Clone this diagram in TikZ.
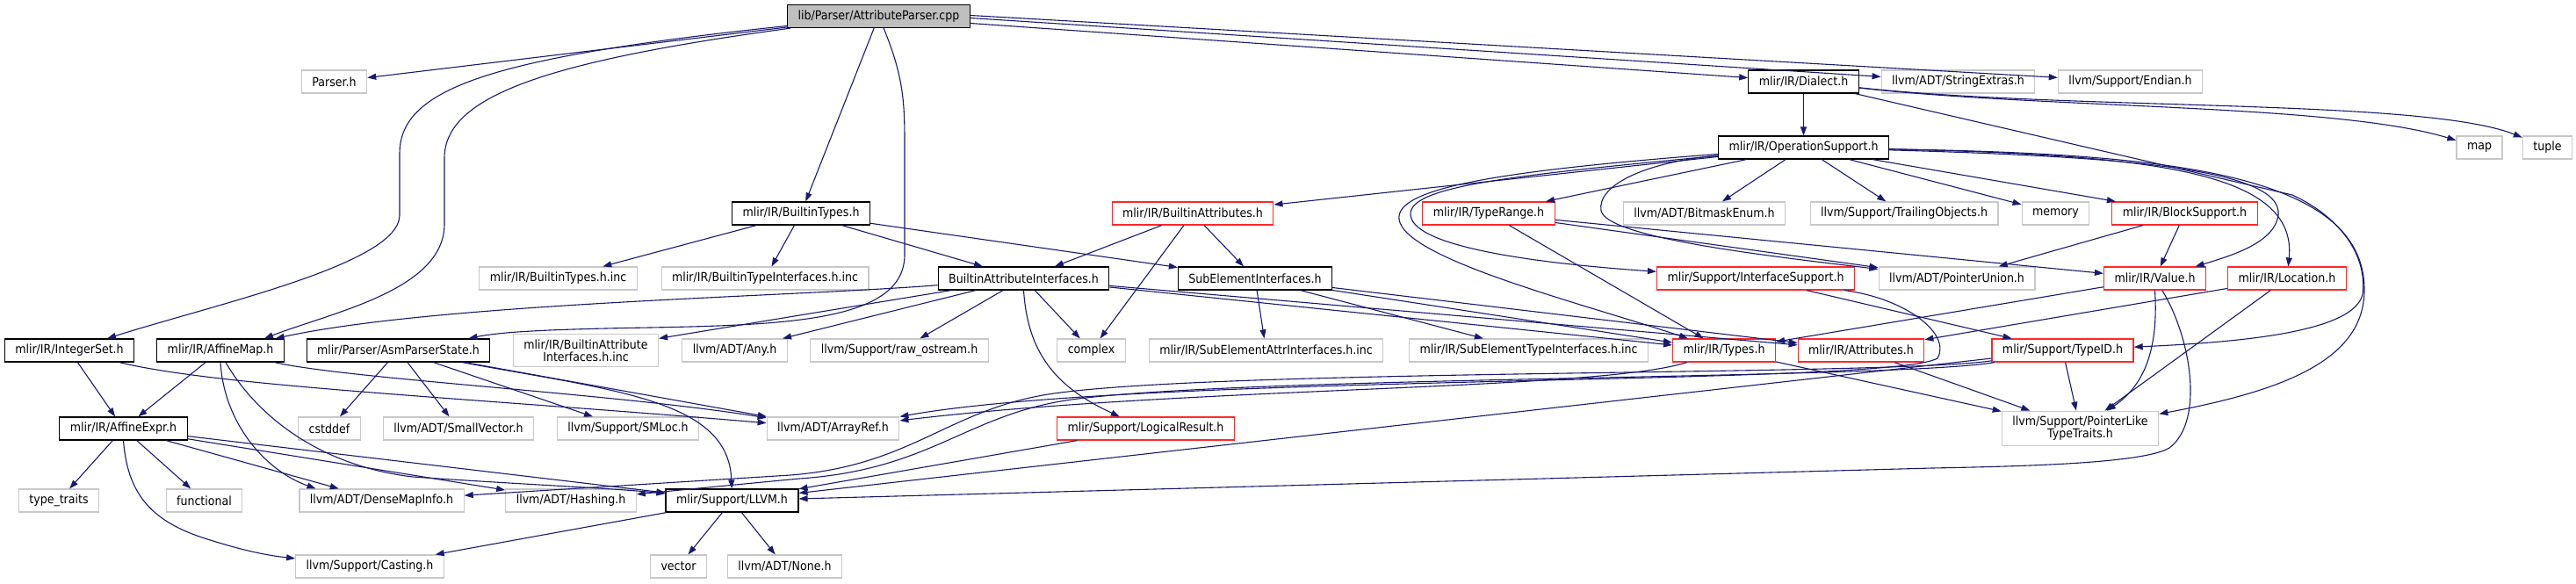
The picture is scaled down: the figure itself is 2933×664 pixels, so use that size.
\documentclass[tikz,border=0pt]{standalone}
\usepackage{fontspec}
\setmainfont{DejaVu Sans}[FakeStretch=0.9]
\usetikzlibrary{arrows.meta}
\usepackage{xcolor}
\definecolor{edgeblue}{RGB}{25,25,112}
\definecolor{rootgrey}{RGB}{191,191,191}
\definecolor{leafgrey}{RGB}{200,200,200}
\definecolor{cutred}{RGB}{255,40,40}

\tikzset{
  filebox/.style={draw=black, line width=1.2pt, fill=white, inner xsep=12pt, inner ysep=6pt,
    minimum height=26pt, align=center, font=\fontsize{14}{14}\selectfont},
  hdr/.style={filebox},
  leaf/.style={filebox, draw=leafgrey},
  cut/.style={filebox, draw=cutred},
  rootfile/.style={filebox, fill=rootgrey},
  dep/.style={draw=edgeblue, line width=1.1pt, -{Triangle[length=10pt,width=7pt]}}
}

\begin{document}
\begin{tikzpicture}[x=1pt,y=-1pt]
  % --- canvas ---
  \useasboundingbox (0,0) rectangle (2933,664);
  \fill[white] (0,0) rectangle (2933,664);

  % --- row 0 / 1 / 2 ---
  \node[rootfile] (root) at (1000.5,18.5) {lib/Parser/AttributeParser.cpp};
  \node[leaf] (parser) at (380.5,93) {Parser.h};
  \node[hdr] (dialect) at (2053.5,93) {mlir/IR/Dialect.h};
  \node[leaf] (strext) at (2229.5,93) {llvm/ADT/StringExtras.h};
  \node[leaf] (endian) at (2425.5,93) {llvm/Support/Endian.h};
  \node[hdr] (opsup) at (2053.5,168) {mlir/IR/OperationSupport.h};
  \node[leaf] (maph) at (2823,168) {map};
  \node[leaf] (tupleh) at (2900.5,168) {tuple};

  % --- row 3 ---
  \node[hdr] (btypes) at (912,243) {mlir/IR/BuiltinTypes.h};
  \node[cut] (battr) at (1358,243) {mlir/IR/BuiltinAttributes.h};
  \node[cut] (trange) at (1695,243) {mlir/IR/TypeRange.h};
  \node[leaf] (bitmask) at (1940.5,243) {llvm/ADT/BitmaskEnum.h};
  \node[leaf] (trailing) at (2168,243) {llvm/Support/TrailingObjects.h};
  \node[leaf] (memoryh) at (2340.5,243) {memory};
  \node[cut] (blocksup) at (2487.5,243) {mlir/IR/BlockSupport.h};

  % --- row 4 ---
  \node[leaf] (btypesinc) at (635.5,317) {mlir/IR/BuiltinTypes.h.inc};
  \node[leaf] (btifinc) at (871,317) {mlir/IR/BuiltinTypeInterfaces.h.inc};
  \node[hdr] (baif) at (1165.5,317) {BuiltinAttributeInterfaces.h};
  \node[hdr] (subel) at (1429,317) {SubElementInterfaces.h};
  \node[cut] (intsup) at (1999,317) {mlir/Support/InterfaceSupport.h};
  \node[leaf] (ptrunion) at (2228,317) {llvm/ADT/PointerUnion.h};
  \node[cut] (value) at (2453.5,317) {mlir/IR/Value.h};
  \node[cut] (location) at (2604,317) {mlir/IR/Location.h};

  % --- row 5 ---
  \node[hdr] (intset) at (79,399) {mlir/IR/IntegerSet.h};
  \node[hdr] (affmap) at (251,399) {mlir/IR/AffineMap.h};
  \node[hdr] (asmps) at (453.5,399) {mlir/Parser/AsmParserState.h};
  \node[leaf] (baifinc) at (667,399) {mlir/IR/BuiltinAttribute\\Interfaces.h.inc};
  \node[leaf] (anyh) at (836.5,399) {llvm/ADT/Any.h};
  \node[leaf] (rawos) at (1024,399) {llvm/Support/raw\_ostream.h};
  \node[leaf] (complexh) at (1242.5,399) {complex};
  \node[leaf] (subattrinc) at (1441.5,399) {mlir/IR/SubElementAttrInterfaces.h.inc};
  \node[leaf] (subtypeinc) at (1740.5,399) {mlir/IR/SubElementTypeInterfaces.h.inc};
  \node[cut] (types) at (1963,399) {mlir/IR/Types.h};
  \node[cut] (attrs) at (2119,399) {mlir/IR/Attributes.h};
  \node[cut] (typeid) at (2348.5,399) {mlir/Support/TypeID.h};

  % --- row 6 ---
  \node[hdr] (affexpr) at (140.5,488) {mlir/IR/AffineExpr.h};
  \node[leaf] (cstddefh) at (375,488) {cstddef};
  \node[leaf] (smallvec) at (522,488) {llvm/ADT/SmallVector.h};
  \node[leaf] (smloc) at (715,488) {llvm/Support/SMLoc.h};
  \node[leaf] (arrayref) at (948.5,488) {llvm/ADT/ArrayRef.h};
  \node[cut] (logres) at (1304.5,488) {mlir/Support/LogicalResult.h};
  \node[leaf] (ptrlike) at (2368.5,488) {llvm/Support/PointerLike\\TypeTraits.h};

  % --- row 7 / 8 ---
  \node[leaf] (typetraits) at (67,570) {type\_traits};
  \node[leaf] (functionalh) at (232.5,570) {functional};
  \node[leaf] (densemap) at (434.5,570) {llvm/ADT/DenseMapInfo.h};
  \node[leaf] (hashing) at (650,570) {llvm/ADT/Hashing.h};
  \node[hdr] (llvm) at (833.5,570) {mlir/Support/LLVM.h};
  \node[leaf] (casting) at (421,645) {llvm/Support/Casting.h};
  \node[leaf] (vectorh) at (772.5,645) {vector};
  \node[leaf] (noneh) at (893.5,645) {llvm/ADT/None.h};

  % --- straight includes ---
  \foreach \src/\dst in {root/parser, root/btypes, dialect/opsup,
      opsup/battr, opsup/trange, opsup/bitmask, opsup/trailing, opsup/memoryh, opsup/blocksup,
      btypes/btypesinc, btypes/btifinc, btypes/baif, btypes/subel,
      battr/baif, battr/subel, battr/complexh,
      trange/types, trange/ptrunion, trange/value, blocksup/ptrunion, blocksup/value,
      baif/baifinc, baif/anyh, baif/rawos, baif/complexh, baif/types, baif/attrs,
      subel/subattrinc, subel/subtypeinc, subel/types, subel/attrs,
      intsup/typeid, value/types, location/attrs, location/ptrlike,
      attrs/ptrlike, types/ptrlike, typeid/ptrlike, typeid/llvm, logres/llvm,
      asmps/cstddefh, asmps/smallvec, asmps/smloc, asmps/arrayref,
      intset/affexpr, affmap/affexpr,
      affexpr/typetraits, affexpr/functionalh, affexpr/densemap, affexpr/hashing, affexpr/llvm,
      llvm/vectorh, llvm/noneh, llvm/casting}{
    \draw[dep] (\src) -- (\dst);
  }

  % --- root file, bent includes ---
  \draw[dep] ([yshift=-8pt]root.east) -- (dialect);
  \draw[dep] ([yshift=-2pt]root.east) -- (strext);
  \draw[dep] ([yshift=1pt]root.east) -- (endian);
  \draw[dep] (root) .. controls (560,65) and (455,100) .. (455,175) -- (455,245)
    .. controls (455,300) and (250,345) .. (intset);
  \draw[dep] (root) .. controls (620,70) and (506,110) .. (506,180) -- (506,255)
    .. controls (506,330) and (380,355) .. ([xshift=50pt]affmap.north);
  \draw[dep] (root) .. controls (1030,90) and (1030,120) .. (1030,170) -- (1030,290)
    .. controls (1030,365) and (900,370) .. (740,373)
    .. controls (620,375) and (570,378) .. ([xshift=80pt]asmps.north);

  % --- Dialect.h ---
  \draw[dep] (dialect) .. controls (2330,124) and (2660,118) .. (maph);
  \draw[dep] (dialect) .. controls (2360,126) and (2760,112) .. (tupleh);
  \draw[dep] (dialect) -- (2610,222) .. controls (2670,250) and (2695,295) .. (2690,335)
    .. controls (2680,380) and (2540,390) .. (typeid);

  % --- OperationSupport.h ---
  \draw[dep] (opsup) .. controls (1700,195) and (1588,215) .. (1593,250)
    .. controls (1600,295) and (1800,345) .. (types);
  \draw[dep] (opsup) .. controls (1720,200) and (1603,212) .. (1606,245)
    .. controls (1610,285) and (1780,302) .. (intsup);
  \draw[dep] (opsup) .. controls (1870,185) and (1818,212) .. (1823,240)
    .. controls (1830,270) and (2000,290) .. (ptrunion);
  \draw[dep] (opsup) .. controls (2400,178) and (2600,190) .. (2594,245)
    .. controls (2590,275) and (2545,290) .. (value);
  \draw[dep] (opsup) .. controls (2450,176) and (2616,195) .. (location);
  \draw[dep] (opsup) .. controls (2460,175) and (2692,195) .. (2692,330)
    .. controls (2692,410) and (2600,445) .. (ptrlike);

  % --- interfaces ---
  \draw[dep] (baif) .. controls (900,338) and (500,345) .. (affmap);
  \draw[dep] (baif.south) .. controls (1170,400) and (1200,440) .. (logres);
  \draw[dep] (intsup) .. controls (2170,340) and (2222,380) .. (2206,408)
    .. controls (2150,440) and (1300,425) .. (arrayref);
  \draw[dep] (types) .. controls (1820,445) and (1350,440) .. (arrayref);
  \draw[dep] (typeid) .. controls (2150,428) and (1400,420) .. (1200,448)
    .. controls (1080,465) and (1040,530) .. (900,541) -- (densemap);
  \draw[dep] (typeid) .. controls (2160,432) and (1420,428) .. (1220,455)
    .. controls (1100,472) and (1060,535) .. (910,545) -- (hashing);
  \draw[dep] (value.south) .. controls (2458,400) and (2440,440) .. (ptrlike);
  \draw[dep] (value) .. controls (2495,385) and (2510,480) .. (2470,510)
    .. controls (2440,528) and (2300,531) .. (2200,533) -- (llvm);

  % --- parser side ---
  \draw[dep] (asmps) .. controls (700,445) and (830,455) .. (llvm);
  \draw[dep] (intset) .. controls (250,440) and (520,452) .. (arrayref);
  \draw[dep] (affmap) .. controls (400,432) and (700,448) .. (arrayref);
  \draw[dep] (affmap.south) .. controls (255,480) and (300,535) .. ([xshift=-75pt]densemap.north);
  \draw[dep] ([xshift=6pt]affmap.south) .. controls (290,470) and (360,530) .. (470,543)
    .. controls (600,552) and (700,556) .. (llvm);
  \draw[dep] (affexpr.south) .. controls (145,560) and (170,592) .. (230,612)
    .. controls (270,625) and (300,632) .. (casting);

\end{tikzpicture}
\end{document}
